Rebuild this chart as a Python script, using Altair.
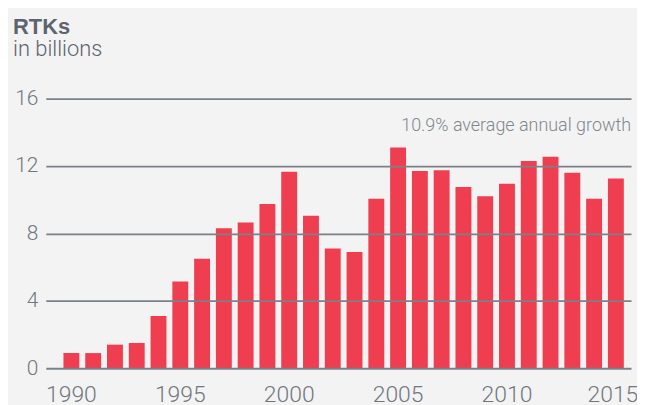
import altair as alt
import pandas as pd

years = list(range(1990, 2016))
rtks = [0.9, 0.9, 1.4, 1.5, 3.1, 5.15, 6.5, 8.3, 8.65, 9.75, 11.65, 9.05, 7.1, 6.9,
        10.05, 13.1, 11.7, 11.75, 10.75, 10.2, 10.95, 12.3, 12.55, 11.6, 10.05, 11.25]
y_ticks = [0, 4, 8, 12, 16]
x_label_years = [1990, 1995, 2000, 2005, 2010, 2015]
title_text = "RTKs"
subtitle_text = "in billions"
note_text = "10.9% average annual growth"

df = pd.DataFrame({"year": years, "rtks": rtks})

FONT = "Roboto"
GRID = "#7a8188"
LABEL = "#70777e"

x_enc = alt.X(
    "year:O",
    scale=alt.Scale(paddingInner=0.27, paddingOuter=0.57, align=0.71),
    axis=alt.Axis(
        title=None, labelAngle=0, ticks=False, domain=False, grid=False,
        values=x_label_years, labelFont=FONT, labelFontSize=23, labelFontWeight=300,
        labelColor=LABEL, labelPadding=15, labelBaseline="top",
        labelOffset={"condition": {"test": "datum.value == 2015", "value": -3}, "value": 0},
    ),
)

bars = alt.Chart(df).mark_bar(color="#f03e51").encode(
    x=x_enc,
    y=alt.Y(
        "rtks:Q",
        scale=alt.Scale(domain=[0, 16], nice=False, zero=True),
        axis=alt.Axis(
            title=None, values=y_ticks, ticks=False, domain=False,
            grid=True, gridColor=GRID, gridWidth=1.8, gridOpacity=1,
            labelFont=FONT, labelFontSize=21, labelFontWeight=300,
            labelColor=LABEL, labelPadding=8, zindex=1,
        ),
    ),
)

title_df = pd.DataFrame({"t": [title_text]})
sub_df = pd.DataFrame({"t": [subtitle_text]})
note_df = pd.DataFrame({"t": [note_text]})

title = alt.Chart(title_df).mark_text(
    align="left", baseline="alphabetic", font="Liberation Sans", fontSize=22, fontWeight="bold",
    color="#5c656e",
).encode(x=alt.value(-33), y=alt.value(-65), text="t:N")

sub = alt.Chart(sub_df).mark_text(
    align="left", baseline="alphabetic", font=FONT, fontSize=22, fontWeight=300,
    color="#5c656e",
).encode(x=alt.value(-33), y=alt.value(-43), text="t:N")

note = alt.Chart(note_df).mark_text(
    align="right", baseline="alphabetic", font=FONT, fontSize=18, fontWeight=300,
    color="#80878d",
).encode(x=alt.value(588), y=alt.value(33), text="t:N")

chart = alt.layer(bars, title, sub, note).properties(
    width=588, height=271,
    background="#f3f3f3",
    padding={"left": 38, "top": 90, "right": 6, "bottom": 40},
    autosize=alt.AutoSizeParams(type="none"),
).configure_view(stroke=None)

chart.save("out.html", embed_options={"renderer": "svg", "actions": False})
